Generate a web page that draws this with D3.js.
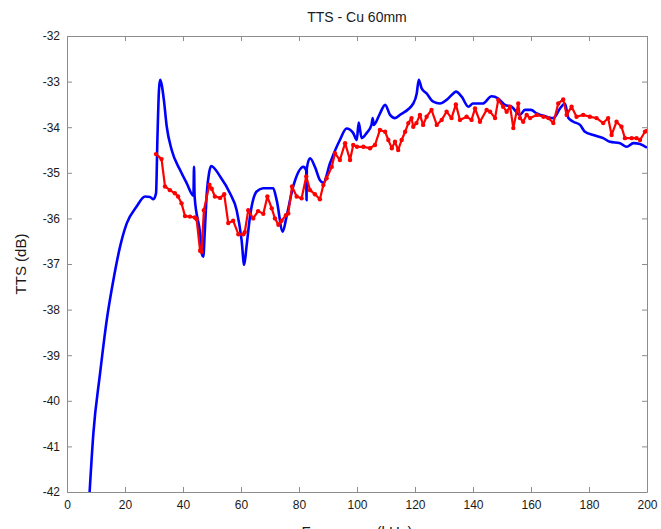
<!DOCTYPE html>
<html>
<head>
<meta charset="utf-8">
<script src="https://cdn.jsdelivr.net/npm/d3@7"></script>
<style>
  body { margin: 0; background: #fff; }
  text { font-family: "Liberation Sans", Arial, sans-serif; }
</style>
</head>
<body>
<script>
var w = 661;
var h = 529;
var margin = {top: 36, right: 14, bottom: 37, left: 67};

// blue curve (simulation) - [kHz, dB]
var blueFreq = [7.8, 9.1, 11.4, 13.7, 16.0, 18.3, 20.6, 24.0, 26.9, 28.6, 29.8, 30.7, 31.2, 31.7, 32.1, 32.6,
  33.4, 34.4, 36.1, 39.0, 41.3, 43.6, 43.8, 44.0, 45.9, 46.6, 47.0, 47.5, 48.2, 49.0, 49.7, 52.8,
  56.2, 58.5, 60.2, 61.1, 61.9, 63.1, 65.4, 67.7, 71.1, 72.3, 74.4, 75.7, 78.0, 81.5, 82.5, 82.6,
  82.7, 83.8, 85.5, 87.2, 88.4, 90.7, 94.1, 96.4, 98.7, 99.9, 100.6, 101.6, 103.3, 105.0, 105.4, 105.8,
  107.9, 109.7, 111.4, 113.1, 115.0, 119.4, 120.6, 121.3, 122.3, 124.0, 126.3, 128.6, 130.9, 133.2, 134.1, 136.1,
  138.4, 140.0, 143.4, 146.4, 148.7, 151.0, 153.3, 156.2, 157.9, 160.0, 162.0, 165.4, 167.7, 170.0, 171.7, 172.9,
  174.6, 176.9, 178.6, 181.5, 184.9, 187.2, 190.7, 193.0, 195.3, 197.6, 200.0];
var blueTTS = [-42.0, -40.71, -39.4, -38.23, -37.35, -36.62, -36.11, -35.74, -35.52, -35.53, -35.58, -35.45, -34.2, -33.2, -32.96, -33.05,
  -33.4, -33.99, -34.5, -34.94, -35.23, -35.5, -34.87, -35.52, -36.33, -36.8, -36.84, -36.3, -35.45, -35.0, -34.85, -35.08,
  -35.45, -35.82, -36.47, -37.02, -36.62, -35.96, -35.41, -35.34, -35.34, -35.6, -36.29, -35.96, -35.3, -34.87, -34.95, -35.6,
  -34.9, -34.68, -34.87, -35.16, -35.22, -34.79, -34.28, -34.03, -34.13, -34.28, -33.9, -34.24, -34.13, -33.95, -33.8, -33.95,
  -33.7, -33.51, -33.73, -33.8, -33.72, -33.48, -33.26, -32.96, -33.15, -33.26, -33.44, -33.48, -33.4, -33.26, -33.22, -33.33,
  -33.55, -33.48, -33.48, -33.32, -33.37, -33.51, -33.55, -33.73, -33.62, -33.62, -33.7, -33.77, -33.8, -33.59, -33.48, -33.8,
  -33.88, -33.95, -34.1, -34.17, -34.24, -34.32, -34.35, -34.43, -34.35, -34.37, -34.45];

// red curve (measurement) - [kHz, dB]
var redFreq = [30.7, 32.6, 33.8, 35.5, 37.2, 38.3, 39.5, 40.7, 42.4, 44.1, 44.7, 45.9, 46.4, 47.2, 49.1, 49.9,
  51.0, 52.8, 54.2, 55.6, 57.3, 59.1, 60.8, 61.3, 62.5, 64.2, 65.9, 67.7, 69.1, 70.6, 71.7, 72.9,
  74.0, 75.5, 76.3, 77.6, 79.2, 80.9, 82.5, 83.8, 85.5, 87.2, 88.4, 89.5, 91.3, 92.4, 94.1, 95.9,
  97.6, 98.7, 100.0, 102.2, 104.5, 106.2, 107.9, 109.7, 110.8, 112.0, 113.1, 114.2, 115.4, 116.6, 117.7, 118.8,
  119.4, 120.5, 121.7, 122.8, 124.0, 125.7, 127.5, 129.2, 130.9, 132.6, 134.1, 135.5, 137.8, 139.5, 140.7, 142.4,
  144.7, 145.9, 147.6, 148.7, 150.4, 151.6, 152.8, 153.9, 155.6, 156.2, 157.3, 158.5, 159.7, 162.0, 164.3, 166.0,
  167.7, 169.4, 171.1, 172.3, 174.0, 175.7, 178.0, 180.3, 182.6, 184.9, 186.6, 187.8, 189.5, 191.2, 192.4, 194.7,
  196.4, 197.6, 199.3, 200.0];
var redTTS = [-34.59, -34.7, -35.3, -35.38, -35.45, -35.52, -35.67, -35.95, -35.96, -35.98, -36.02, -36.71, -36.73, -35.82, -35.26, -35.35,
  -35.52, -35.55, -35.47, -36.1, -36.05, -36.35, -36.35, -36.3, -35.82, -36.0, -35.84, -35.9, -35.52, -35.78, -36.0, -36.14,
  -36.05, -35.93, -35.89, -35.3, -35.52, -35.56, -35.08, -35.38, -35.47, -35.58, -35.27, -35.12, -34.87, -34.57, -34.72, -34.35,
  -34.72, -34.39, -34.43, -34.43, -34.46, -34.39, -34.06, -34.1, -34.28, -34.46, -34.32, -34.5, -34.28, -34.1, -33.91, -33.8,
  -33.99, -33.91, -33.73, -33.95, -33.77, -33.62, -33.95, -33.84, -33.66, -33.8, -33.5, -33.84, -33.77, -33.84, -33.59, -33.88,
  -33.62, -33.66, -33.8, -33.4, -33.55, -33.66, -33.55, -34.02, -33.48, -33.8, -33.88, -33.73, -33.8, -33.73, -33.77, -33.8,
  -33.91, -33.48, -33.39, -33.73, -33.55, -33.77, -33.73, -33.77, -33.8, -33.91, -33.8, -34.17, -33.88, -33.99, -34.24, -34.24,
  -34.24, -34.28, -34.1, -34.08];

var xTicks = [0, 20, 40, 60, 80, 100, 120, 140, 160, 180, 200];
var yTicks = [-32, -33, -34, -35, -36, -37, -38, -39, -40, -41, -42];

var pw = w - margin.left - margin.right;
var ph = h - margin.top - margin.bottom;

var svg = d3.select("body").append("svg")
            .attr("width", w)
            .attr("height", h);

var x = d3.scaleLinear().domain([0, 200]).range([0, pw]);
var y = d3.scaleLinear().domain([-42, -32]).range([ph, 0]);

var g = svg.append("g")
           .attr("transform", "translate(" + margin.left + "," + margin.top + ")");

g.append("clipPath").attr("id", "clip")
  .append("rect").attr("width", pw).attr("height", ph);

// axes, matlab style: ticks inside on all four sides
function styleAxis(sel) {
  sel.select(".domain").attr("stroke", "#8c8c8c");
  sel.selectAll(".tick line").attr("stroke", "#8c8c8c");
  sel.selectAll(".tick text")
     .attr("fill", "#1a1a1a")
     .attr("font-size", "12px")
     .attr("font-family", "Liberation Sans, Arial, sans-serif");
}

g.append("g").attr("transform", "translate(0," + ph + ")")
  .call(d3.axisBottom(x).tickValues(xTicks).tickSizeInner(-5).tickSizeOuter(0).tickPadding(8))
  .call(styleAxis);
g.append("g")
  .call(d3.axisTop(x).tickValues(xTicks).tickSizeInner(-5).tickSizeOuter(0).tickFormat(""))
  .call(styleAxis);
g.append("g")
  .call(d3.axisLeft(y).tickValues(yTicks).tickSizeInner(-5).tickSizeOuter(0).tickPadding(7).tickFormat(d3.format("d")))
  .call(styleAxis);
g.append("g").attr("transform", "translate(" + pw + ",0)")
  .call(d3.axisRight(y).tickValues(yTicks).tickSizeInner(-5).tickSizeOuter(0).tickFormat(""))
  .call(styleAxis);

// hyphen instead of unicode minus, like the original
g.selectAll(".tick text").each(function(d) {
  var t = d3.select(this).text();
  d3.select(this).text(t.replace("\u2212", "-"));
});

var blueLine = d3.line()
             .curve(d3.curveMonotoneX)
             .x(function(d) { return x(d[0]); })
             .y(function(d) { return y(d[1]); });
var redLine = d3.line()
             .x(function(d) { return x(d[0]); })
             .y(function(d) { return y(d[1]); });

var blue = d3.zip(blueFreq, blueTTS);
var red = d3.zip(redFreq, redTTS);

var plot = g.append("g").attr("clip-path", "url(#clip)");

plot.append("path")
    .datum(blue)
    .attr("d", blueLine)
    .attr("fill", "none")
    .attr("stroke", "#0000ff")
    .attr("stroke-width", 2.6)
    .attr("stroke-linejoin", "round");

plot.append("path")
    .datum(red)
    .attr("d", redLine)
    .attr("fill", "none")
    .attr("stroke", "#ff0000")
    .attr("stroke-width", 2.2)
    .attr("stroke-linejoin", "round");

plot.selectAll("circle")
    .data(red)
    .enter()
    .append("circle")
    .attr("cx", function(d) { return x(d[0]); })
    .attr("cy", function(d) { return y(d[1]); })
    .attr("r", 2.2)
    .attr("fill", "#ff0000");

// titles
svg.append("text")
   .text("TTS - Cu 60mm")
   .attr("x", margin.left + pw / 2)
   .attr("y", 22)
   .attr("text-anchor", "middle")
   .attr("font-size", "14px")
   .attr("fill", "#1a1a1a");

svg.append("text")
   .text("TTS (dB)")
   .attr("transform", "translate(26," + (margin.top + ph / 2) + ") rotate(-90)")
   .attr("text-anchor", "middle")
   .attr("font-size", "15px")
   .attr("fill", "#1a1a1a");

// x label sits at the bottom edge, partly cut like the original
svg.append("text")
   .text("Frequency (kHz)")
   .attr("x", margin.left + pw / 2)
   .attr("y", 537)
   .attr("text-anchor", "middle")
   .attr("font-size", "15px")
   .attr("fill", "#1a1a1a");
</script>
</body>
</html>
